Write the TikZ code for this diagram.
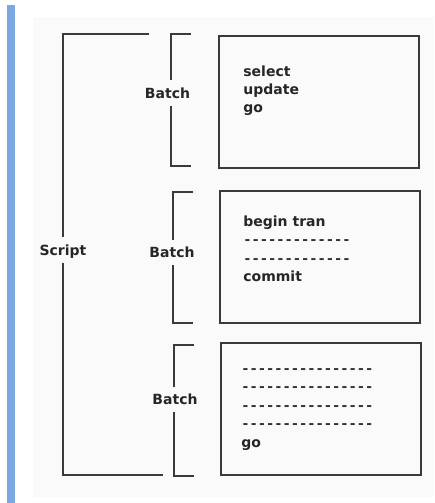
\documentclass[tikz,border=0pt]{standalone}
\usepackage{fontspec}
\setmainfont{DejaVu Sans}
\newfontfamily\dashfont{DejaVu Sans Mono}[Ligatures=TeXOff]
\usepackage{xcolor}
\definecolor{barblue}{HTML}{7BA7E3}
\definecolor{pagegray}{HTML}{FAFAFA}
\definecolor{linegray}{HTML}{3A3A3A}

\begin{document}
\begin{tikzpicture}[
  x=1pt, y=-1pt, thick,
  line/.style={draw=linegray, line width=1.2pt},
  codebox/.style={line, rectangle, inner sep=0pt},
  label/.style={font=\bfseries\fontsize{14}{14}\selectfont, text=black!85, inner xsep=1pt, inner ysep=0pt, text height=10pt, text depth=0pt, minimum height=25pt},
  code/.style={font=\bfseries\fontsize{14}{14}\selectfont, text=black!85, inner sep=0pt, anchor=base west},
  dashline/.style={font=\dashfont\bfseries\fontsize{13.7}{13.7}\selectfont, text=black!80, inner sep=0pt, anchor=base west}
]
  \useasboundingbox (0,0) rectangle (434,503);
  \fill[pagegray] (33,17) rectangle (434,497);
  \fill[barblue] (7,5) rectangle (15,503);

  \node[codebox, minimum width=200pt, minimum height=132pt] (box1) at (319,102) {};
  \node[codebox, minimum width=200pt, minimum height=132pt] (box2) at (320,257) {};
  \node[codebox, minimum width=200pt, minimum height=132pt] (box3) at (321,409) {};

  \node[code] (t11) at (243,77) {select};
  \node[code] (t12) at (243,94.7) {update};
  \node[code] (t13) at (243,112.4) {go};

  \node[code] (t21) at (243,226.5) {begin tran};
  \node[dashline] (t22) at (243,244.9) {-------------};
  \node[dashline] (t23) at (243,263.3) {-------------};
  \node[code] (t24) at (243,281.7) {commit};

  \foreach \i in {1,...,4}
    \node[dashline] (t3\i) at (241,{373+18.5*(\i-1)}) {----------------};
  \node[code] (t35) at (241,447) {go};

  \node[label] (script) at (63,250) {Script};
  \node[label] (batch1) at (167.5,93) {Batch};
  \node[label] (batch2) at (172,252.5) {Batch};
  \node[label] (batch3) at (175,399.5) {Batch};

  \coordinate (s0) at (149,34);
  \coordinate (s1) at (63,34);
  \coordinate (s2) at (63,475);
  \coordinate (s3) at (163,475);
  \draw[line] (s0) -- (s1) -- (s1 |- script.north);
  \draw[line] (script.south -| s2) -- (s2) -- (s3);

  \coordinate (a0) at (191,34);
  \coordinate (a1) at (171,34);
  \coordinate (a2) at (171,166);
  \coordinate (a3) at (191,166);
  \draw[line] (a0) -- (a1) -- (a1 |- batch1.north);
  \draw[line] (batch1.south -| a2) -- (a2) -- (a3);

  \coordinate (b0) at (193,192);
  \coordinate (b1) at (173,192);
  \coordinate (b2) at (173,323);
  \coordinate (b3) at (193,323);
  \draw[line] (b0) -- (b1) -- (b1 |- batch2.north);
  \draw[line] (batch2.south -| b2) -- (b2) -- (b3);

  \coordinate (c0) at (194,345);
  \coordinate (c1) at (174,345);
  \coordinate (c2) at (174,476);
  \coordinate (c3) at (194,476);
  \draw[line] (c0) -- (c1) -- (c1 |- batch3.north);
  \draw[line] (batch3.south -| c2) -- (c2) -- (c3);
\end{tikzpicture}
\end{document}
